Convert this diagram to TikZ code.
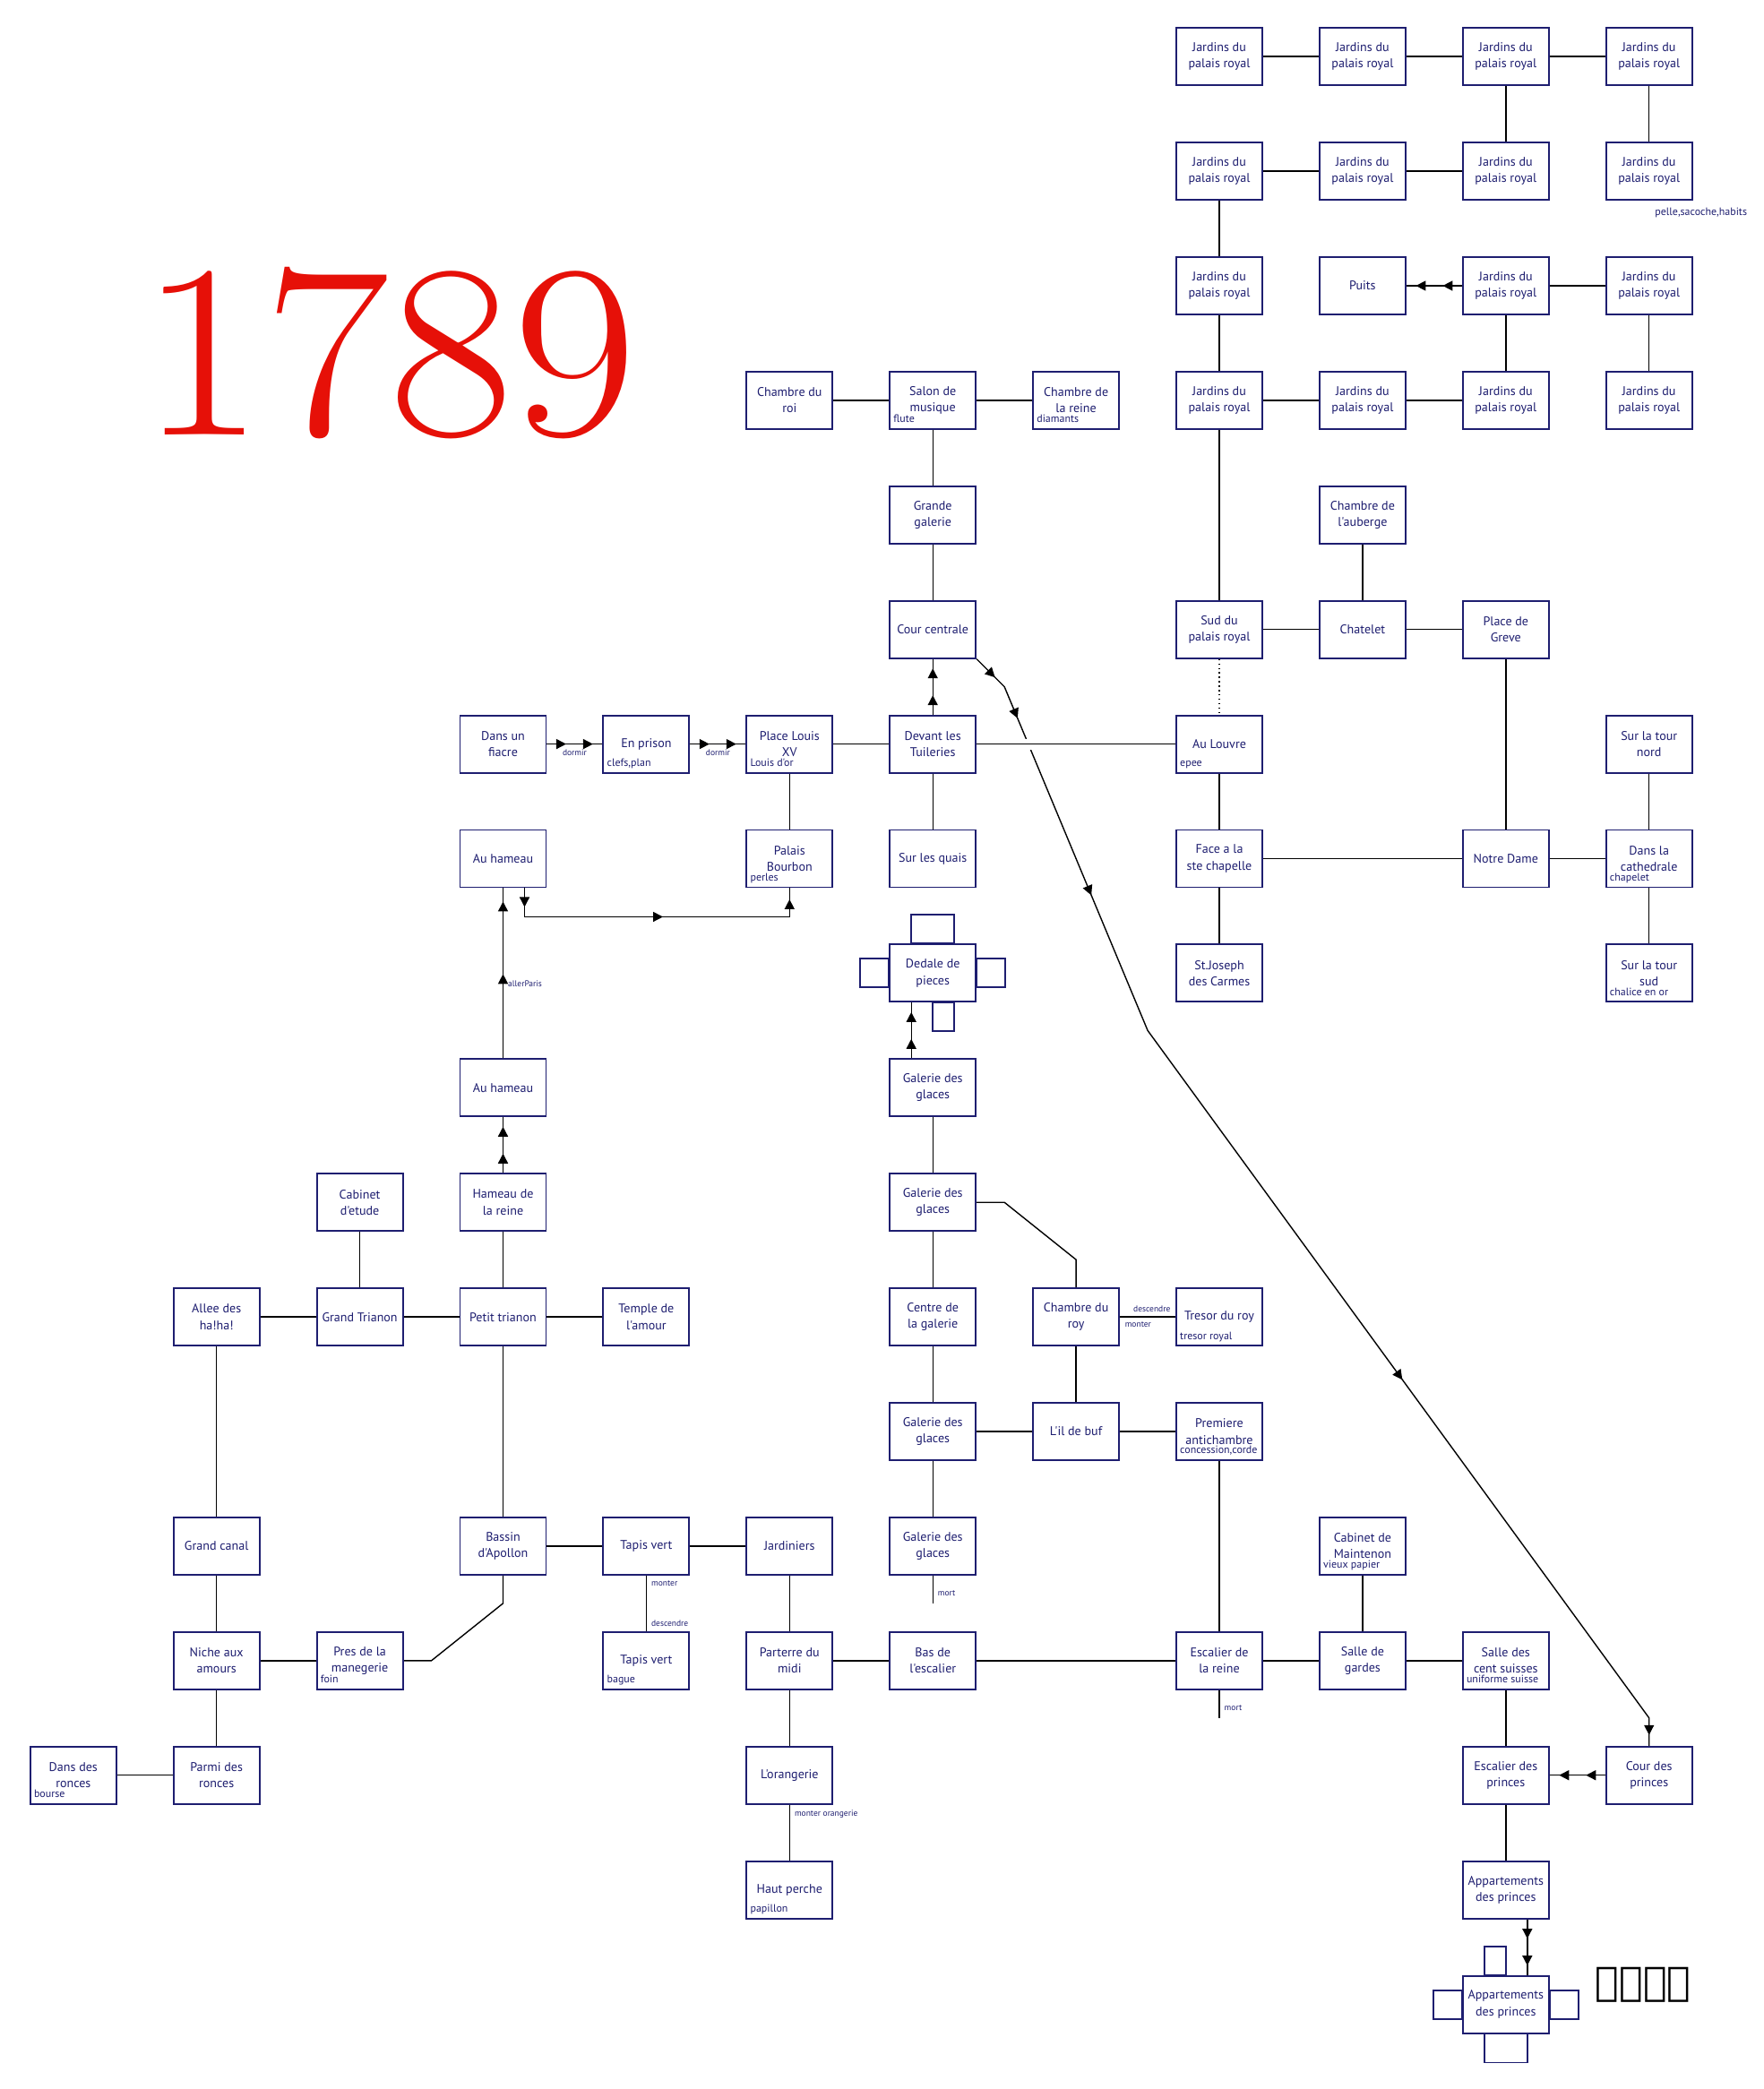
\documentclass[tikz,border=0pt]{standalone}
\usepackage{fontspec}
\usepackage{graphicx}
\usetikzlibrary{arrows.meta, decorations.markings, backgrounds}
\definecolor{inkblue}{RGB}{30,30,112}
\definecolor{yearred}{RGB}{230,16,8}
\newfontfamily\roomsf{PT Sans}
\newfontfamily\runesf{DejaVu Sans}
\newcommand{\roomfont}{\roomsf\fontsize{4pt}{5.2pt}\selectfont}
\newcommand{\itemfont}{\roomsf\fontsize{3.4pt}{4pt}\selectfont}
\newcommand{\lblfont}{\roomsf\fontsize{2.7pt}{3.2pt}\selectfont}

\begin{document}
\begin{tikzpicture}[x=1.599cm, y=-1.279cm,
    room/.style={draw=inkblue, fill=white, line width=0.55pt, minimum width=9.6mm, minimum height=6.4mm, inner sep=0pt, align=center, text=inkblue, font=\roomfont},
    item/.style={inner sep=0pt, anchor=base west, text=inkblue, font=\itemfont},
    lbl/.style={inner sep=0.5mm, text=inkblue, font=\lblfont},
    wall/.style={draw=inkblue, line width=0.55pt},
    arrowat/.style={postaction={decoration={markings, mark=at position #1 with {\arrow{Triangle[length=1.1mm, width=1.1mm]}}}, decorate}},
    dbl/.style={arrowat=2.15mm, arrowat=-1.05mm}]
  \useasboundingbox (-0.818cm, 0.632cm) rectangle (18.872cm, -22.688cm);
  %titre
  \node[text=yearred, inner sep=0pt, font=\fontsize{86pt}{90pt}\selectfont] at (3.522cm, -3.308cm) (year){\scalebox{1}[0.915]{1789}};
  \node[font=\runesf\fontsize{12.6pt}{14pt}\selectfont, inner sep=0pt] at (17.522cm, -21.528cm) (runes){ᚠᛚᛖᛉ};

  %jardins du palais royal
  \node[room] at (8, 0) (ja0){Jardins du\\palais royal};
  \node[room] at (9, 0) (jb0){Jardins du\\palais royal};
  \node[room] at (10, 0) (jc0){Jardins du\\palais royal};
  \node[room] at (11, 0) (jd0){Jardins du\\palais royal};
  \node[room] at (8, 1) (ja1){Jardins du\\palais royal};
  \node[room] at (9, 1) (jb1){Jardins du\\palais royal};
  \node[room] at (10, 1) (jc1){Jardins du\\palais royal};
  \node[room] at (11, 1) (jd1){Jardins du\\palais royal};
  \node[room] at (8, 2) (ja2){Jardins du\\palais royal};
  \node[room] at (9, 2) (puits){Puits};
  \node[room] at (10, 2) (jc2){Jardins du\\palais royal};
  \node[room] at (11, 2) (jd2){Jardins du\\palais royal};
  \node[room] at (8, 3) (ja3){Jardins du\\palais royal};
  \node[room] at (9, 3) (jb3){Jardins du\\palais royal};
  \node[room] at (10, 3) (jc3){Jardins du\\palais royal};
  \node[room] at (11, 3) (jd3){Jardins du\\palais royal};
  \node[item, anchor=north west] at ([shift={(0.6mm,-0.7mm)}]jd1.south) (pelle){pelle,sacoche,habits};

  %paris
  \node[room] at (5, 3) (chroi){Chambre du\\roi};
  \node[room] at (6, 3) (salon){Salon de\\musique};
  \node[room] at (7, 3) (chreine){Chambre de\\la reine};
  \node[room] at (6, 4) (grgal){Grande\\galerie};
  \node[room] at (9, 4) (auberge){Chambre de\\l'auberge};
  \node[room] at (6, 5) (cour){Cour centrale};
  \node[room] at (8, 5) (sud){Sud du\\palais royal};
  \node[room] at (9, 5) (chatelet){Chatelet};
  \node[room] at (10, 5) (greve){Place de\\Greve};
  \node[room] at (3, 6) (fiacre){Dans un\\fiacre};
  \node[room] at (4, 6) (prison){En prison};
  \node[room] at (5, 6) (louisxv){Place Louis\\XV};
  \node[room] at (6, 6) (tuil){Devant les\\Tuileries};
  \node[room] at (8, 6) (louvre){Au Louvre};
  \node[room] at (11, 6) (tnord){Sur la tour\\nord};
  \node[room] at (3, 7) (hameauA){Au hameau};
  \node[room] at (5, 7) (bourbon){Palais\\Bourbon};
  \node[room] at (6, 7) (quais){Sur les quais};
  \node[room] at (8, 7) (face){Face a la\\ste chapelle};
  \node[room] at (10, 7) (notre){Notre Dame};
  \node[room] at (11, 7) (cath){Dans la\\cathedrale};
  \node[room] at (6, 8) (dedale){Dedale de\\pieces};
  \node[room] at (8, 8) (joseph){St.Joseph\\des Carmes};
  \node[room] at (11, 8) (tsud){Sur la tour\\sud};
  \node[item] at ([shift={(0.45mm,0.8mm)}]salon.south west) (flute){flute};
  \node[item] at ([shift={(0.45mm,0.8mm)}]chreine.south west) (diamants){diamants};
  \node[item] at ([shift={(0.45mm,0.8mm)}]prison.south west) (clefs){clefs,plan};
  \node[item] at ([shift={(0.45mm,0.8mm)}]louisxv.south west) (louisdor){Louis d'or};
  \node[item] at ([shift={(0.45mm,0.8mm)}]louvre.south west) (epee){epee};
  \node[item] at ([shift={(0.45mm,0.8mm)}]bourbon.south west) (perles){perles};
  \node[item] at ([shift={(0.45mm,0.8mm)}]cath.south west) (chapelet){chapelet};
  \node[item] at ([shift={(0.45mm,0.8mm)}]tsud.south west) (chalice){chalice en or};

  %versailles
  \node[room] at (3, 9) (hameauB){Au hameau};
  \node[room] at (6, 9) (glA){Galerie des\\glaces};
  \node[room] at (2, 10) (cabinet){Cabinet\\d'etude};
  \node[room] at (3, 10) (hreine){Hameau de\\la reine};
  \node[room] at (6, 10) (glB){Galerie des\\glaces};
  \node[room] at (1, 11) (allee){Allee des\\ha!ha!};
  \node[room] at (2, 11) (gtrianon){Grand Trianon};
  \node[room] at (3, 11) (ptrianon){Petit trianon};
  \node[room] at (4, 11) (temple){Temple de\\l'amour};
  \node[room] at (6, 11) (centre){Centre de\\la galerie};
  \node[room] at (7, 11) (chroy){Chambre du\\roy};
  \node[room] at (8, 11) (tresor){Tresor du roy};
  \node[room] at (6, 12) (glC){Galerie des\\glaces};
  \node[room] at (7, 12) (oeil){L'il de buf};
  \node[room] at (8, 12) (antich){Premiere\\antichambre};
  \node[room] at (1, 13) (canal){Grand canal};
  \node[room] at (3, 13) (apollon){Bassin\\d'Apollon};
  \node[room] at (4, 13) (tapisA){Tapis vert};
  \node[room] at (5, 13) (jardiniers){Jardiniers};
  \node[room] at (6, 13) (glD){Galerie des\\glaces};
  \node[room] at (9, 13) (maintenon){Cabinet de\\Maintenon};
  \node[room] at (1, 14) (niche){Niche aux\\amours};
  \node[room] at (2, 14) (menag){Pres de la\\manegerie};
  \node[room] at (4, 14) (tapisB){Tapis vert};
  \node[room] at (5, 14) (parterre){Parterre du\\midi};
  \node[room] at (6, 14) (basesc){Bas de\\l'escalier};
  \node[room] at (8, 14) (escreine){Escalier de\\la reine};
  \node[room] at (9, 14) (gardes){Salle de\\gardes};
  \node[room] at (10, 14) (suisses){Salle des\\cent suisses};
  \node[room] at (0, 15) (dronces){Dans des\\ronces};
  \node[room] at (1, 15) (pronces){Parmi des\\ronces};
  \node[room] at (5, 15) (orang){L'orangerie};
  \node[room] at (10, 15) (escpr){Escalier des\\princes};
  \node[room] at (11, 15) (courpr){Cour des\\princes};
  \node[room] at (5, 16) (perche){Haut perche};
  \node[room] at (10, 16) (appA){Appartements\\des princes};
  \node[room] at (10, 17) (appB){Appartements\\des princes};
  \node[item] at ([shift={(0.45mm,0.8mm)}]tresor.south west) (tresroyal){tresor royal};
  \node[item] at ([shift={(0.45mm,0.8mm)}]antich.south west) (corde){concession,corde};
  \node[item] at ([shift={(0.45mm,0.8mm)}]maintenon.south west) (papier){vieux papier};
  \node[item] at ([shift={(0.45mm,0.8mm)}]menag.south west) (foin){foin};
  \node[item] at ([shift={(0.45mm,0.8mm)}]tapisB.south west) (bague){bague};
  \node[item] at ([shift={(0.45mm,0.8mm)}]suisses.south west) (uniforme){uniforme suisse};
  \node[item] at ([shift={(0.45mm,0.8mm)}]dronces.south west) (bourse){bourse};
  \node[item] at ([shift={(0.45mm,0.8mm)}]perche.south west) (papillon){papillon};

  %dedales
  \draw[wall] ([xshift=-2.4mm]dedale.north) rectangle ([xshift=2.4mm, yshift=3.2mm]dedale.north);
  \draw[wall] ([yshift=-1.6mm]dedale.west) rectangle ([xshift=-3.2mm, yshift=1.6mm]dedale.west);
  \draw[wall] ([yshift=-1.6mm]dedale.east) rectangle ([xshift=3.2mm, yshift=1.6mm]dedale.east);
  \draw[wall] (dedale.south) rectangle ([xshift=2.4mm, yshift=-3.2mm]dedale.south);
  \draw[wall] ([xshift=-2.4mm]appB.north) rectangle ([yshift=3.2mm]appB.north);
  \draw[wall] ([yshift=-1.6mm]appB.west) rectangle ([xshift=-3.2mm, yshift=1.6mm]appB.west);
  \draw[wall] ([yshift=-1.6mm]appB.east) rectangle ([xshift=3.2mm, yshift=1.6mm]appB.east);
  \draw[wall] ([xshift=-2.4mm]appB.south) rectangle ([xshift=2.4mm, yshift=-3.2mm]appB.south);

  \coordinate (bendA) at (6.5, 5.5);
  \coordinate (bendB) at (7.5, 8.5);
  \coordinate (bendC) at (11, 14.5);
  \coordinate (kneeA) at (6.5, 10);
  \coordinate (kneeB) at (7, 10.5);
  \coordinate (kneeC) at (3, 13.5);
  \coordinate (kneeD) at (2.5, 14);
  \coordinate (mortA) at (6, 13.5);
  \coordinate (mortB) at (8, 14.5);

  \begin{scope}[on background layer, inkblue, line width=0.5pt]
    %jardins
    \draw (ja0) -- (jb0);
    \draw (jb0) -- (jc0);
    \draw (jc0) -- (jd0);
    \draw (jc0) -- (jc1);
    \draw (jd0) -- (jd1);
    \draw (ja1) -- (jb1);
    \draw (jb1) -- (jc1);
    \draw (ja1) -- (ja2);
    \draw[dbl] (jc2) -- (puits);
    \draw (jc2) -- (jd2);
    \draw (ja2) -- (ja3);
    \draw (jc2) -- (jc3);
    \draw (jd2) -- (jd3);
    \draw (ja3) -- (jb3);
    \draw (jb3) -- (jc3);
    \draw (ja3) -- (sud);
    %paris
    \draw (chroi) -- (salon);
    \draw (salon) -- (chreine);
    \draw (salon) -- (grgal);
    \draw (grgal) -- (cour);
    \draw (auberge) -- (chatelet);
    \draw (sud) -- (chatelet);
    \draw (chatelet) -- (greve);
    \draw[densely dotted] (sud) -- (louvre);
    \draw (greve) -- (notre);
    \draw[dbl] (fiacre) -- node[below, lbl]{dormir}(prison);
    \draw[dbl] (prison) -- node[below, lbl]{dormir}(louisxv);
    \draw (louisxv) -- (tuil);
    \draw[dbl] (tuil) -- (cour);
    \draw[arrowat=2.9mm, arrowat=8.2mm, arrowat=29.6mm, arrowat=94.2mm, arrowat=-1.2mm] (cour.south east) -- (bendA) -- (bendB) -- (bendC) -- (courpr);
    \draw[preaction={draw=white, line width=3.4pt}] (tuil) -- (louvre);
    \draw (louisxv) -- (bourbon);
    \draw (tuil) -- (quais);
    \draw (louvre) -- (face);
    \draw (face) -- (notre);
    \draw (notre) -- (cath);
    \draw (tnord) -- (cath);
    \draw (cath) -- (tsud);
    \draw (face) -- (joseph);
    \draw[arrowat=2.1mm, arrowat=18.65mm, arrowat=-1.25mm] ([xshift=2.4mm]hameauA.south) -- ++(0,-3.2mm) -| (bourbon.south);
    %versailles
    \draw[arrowat=9.4mm, arrowat=-1.5mm] (hameauB) -- node[pos=0.44, right, lbl]{allerParis}(hameauA);
    \draw[dbl] (hreine) -- (hameauB);
    \draw[dbl] ([xshift=-2.4mm]glA.north) -- ([xshift=-2.4mm]dedale.south);
    \draw (glA) -- (glB);
    \draw (glB) -- (centre);
    \draw (glB) -- (kneeA) -- (kneeB) -- (chroy);
    \draw (cabinet) -- (gtrianon);
    \draw (hreine) -- (ptrianon);
    \draw (allee) -- (gtrianon);
    \draw (gtrianon) -- (ptrianon);
    \draw (ptrianon) -- (temple);
    \draw (chroy) -- node[pos=0, below right, lbl]{monter} node[pos=1, above left, lbl]{descendre}(tresor);
    \draw (centre) -- (glC);
    \draw (chroy) -- (oeil);
    \draw (glC) -- (oeil);
    \draw (oeil) -- (antich);
    \draw (glC) -- (glD);
    \draw (glD) -- node[pos=0.65, right, inner sep=0.3mm, lbl]{mort}(mortA);
    \draw (allee) -- (canal);
    \draw (ptrianon) -- (apollon);
    \draw (apollon) -- (tapisA);
    \draw (tapisA) -- (jardiniers);
    \draw (tapisA) -- node[pos=0, below right, lbl]{monter} node[pos=1, above right, lbl]{descendre}(tapisB);
    \draw (jardiniers) -- (parterre);
    \draw (apollon) -- (kneeC) -- (kneeD) -- (menag);
    \draw (canal) -- (niche);
    \draw (niche) -- (menag);
    \draw (niche) -- (pronces);
    \draw (dronces) -- (pronces);
    \draw (parterre) -- (basesc);
    \draw (basesc) -- (escreine);
    \draw (antich) -- (escreine);
    \draw (escreine) -- node[pos=0.65, right, inner sep=0.3mm, lbl]{mort}(mortB);
    \draw (escreine) -- (gardes);
    \draw (maintenon) -- (gardes);
    \draw (gardes) -- (suisses);
    \draw (parterre) -- (orang);
    \draw (orang) -- node[pos=0, below right, lbl]{monter orangerie}(perche);
    \draw (suisses) -- (escpr);
    \draw[dbl] (courpr) -- (escpr);
    \draw (escpr) -- (appA);
    \draw[dbl] ([xshift=2.4mm]appA.south) -- ([xshift=2.4mm]appB.north);
  \end{scope}
\end{tikzpicture}
\end{document}
